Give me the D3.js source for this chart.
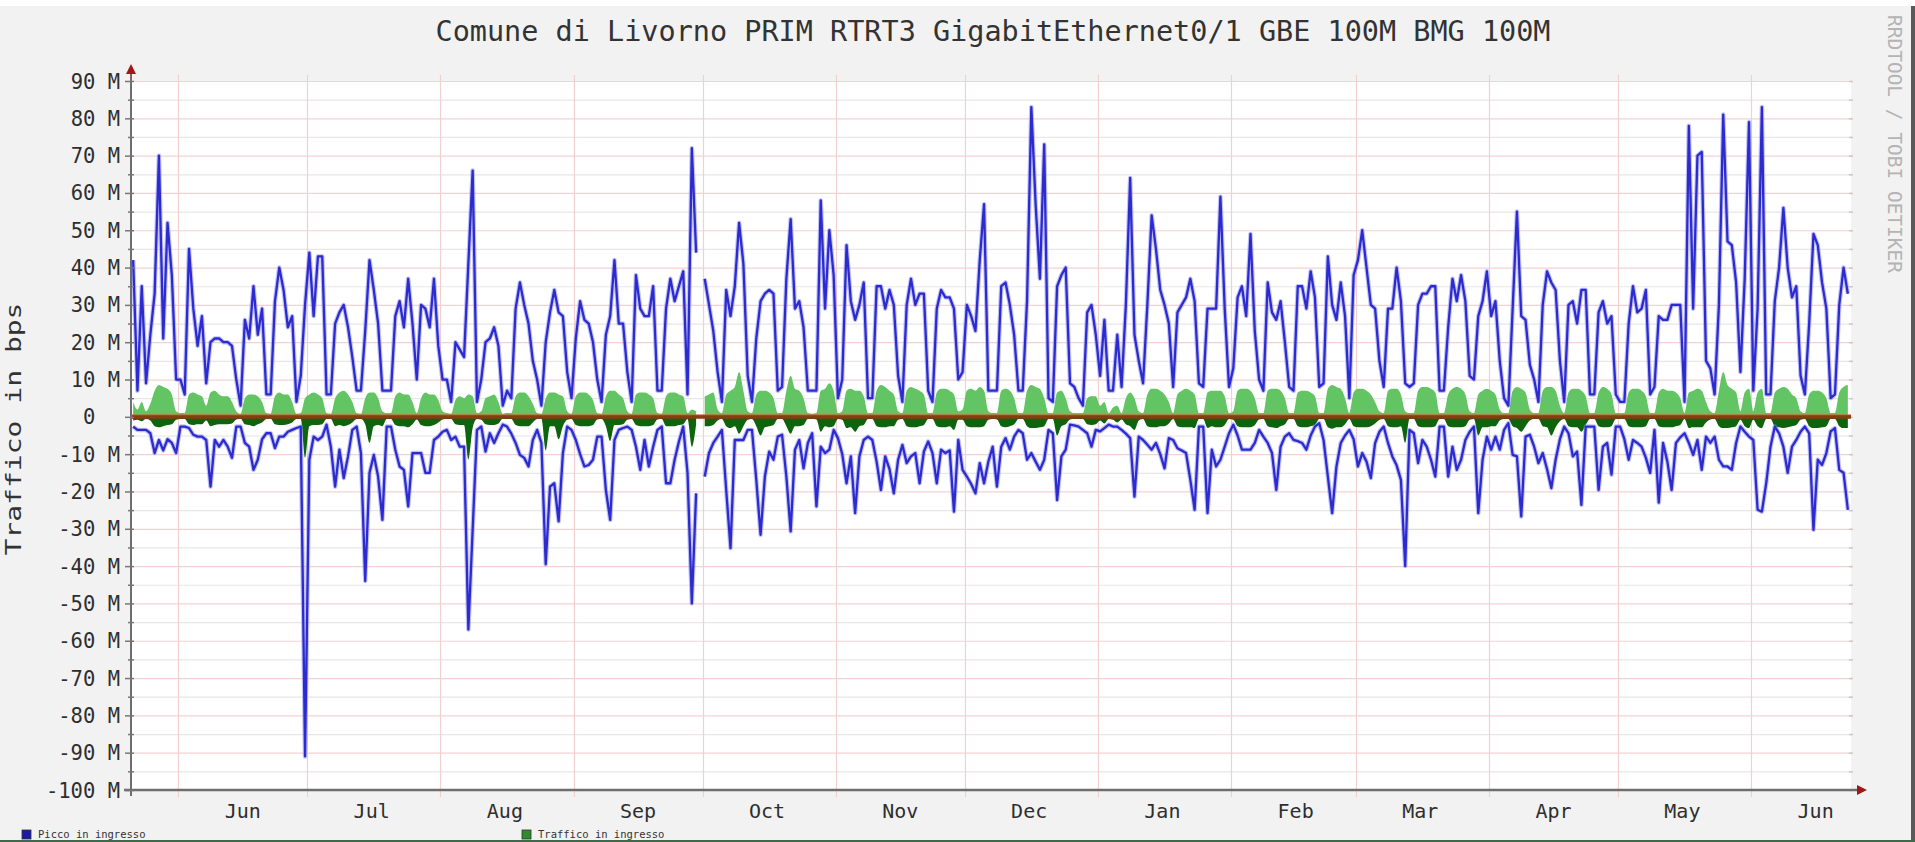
<!DOCTYPE html>
<html><head><meta charset="utf-8">
<script src="https://cdn.jsdelivr.net/npm/d3@7"></script>
<style>
html,body{margin:0;padding:0;background:#f2f2f2;overflow:hidden;}
svg{display:block;}
text{font-family:"DejaVu Sans Mono",monospace;white-space:pre;}
</style></head><body>
<svg id="chart" width="1915" height="842"></svg>
<script>
// ---------- text ----------
const chartTitle = "Comune di Livorno PRIM RTRT3 GigabitEthernet0/1 GBE 100M BMG 100M";
const yAxisTitle = "Traffico in bps";
const watermark = "RRDTOOL / TOBI OETIKER";
const legendLabels = ["Picco in ingresso", "Traffico in ingresso"];

// ---------- axes ----------
const startDate = "2015-05-21";   // first daily sample
const endDate = "2016-06-24";     // right edge of the time axis
const monthStarts = ["2015-06-01","2015-07-01","2015-08-01","2015-09-01","2015-10-01","2015-11-01","2015-12-01","2016-01-01","2016-02-01","2016-03-01","2016-04-01","2016-05-01","2016-06-01"];
const monthLabels = ["Jun","Jul","Aug","Sep","Oct","Nov","Dec","Jan","Feb","Mar","Apr","May","Jun"];
const yTickValues = [90,80,70,60,50,40,30,20,10,0,-10,-20,-30,-40,-50,-60,-70,-80,-90,-100];
const yTickLabels = ["90 M","80 M","70 M","60 M","50 M","40 M","30 M","20 M","10 M","0  ","-10 M","-20 M","-30 M","-40 M","-50 M","-60 M","-70 M","-80 M","-90 M","-100 M"];

// ---------- daily series (Mbit/s), one value per day from startDate ----------
const peakIn = [
42,7,35,9,22,33,70,21,52,38,
10,10,6,45,29,19,27,9,20,21,
21,20,20,19,10,3,26,21,35,22,
29,6,6,31,40,34,24,27,4,11,
30,44,27,43,43,6,6,25,28,30,
24,16,7,7,23,42,34,25,7,7,
7,27,31,24,37,25,10,30,29,24,
37,19,10,10,4,20,18,16,41,66,
4,10,20,21,24,19,3,7,5,29,
36,30,25,15,10,3,20,28,34,28,
27,12,5,21,31,26,25,20,10,4,
22,27,42,25,25,12,4,38,29,27,
27,35,7,7,29,37,31,35,39,6,
72,44,null,37,30,23,12,4,34,27,
35,52,41,11,4,21,31,33,34,33,
7,8,37,53,29,31,24,7,7,7,
58,29,50,38,5,10,46,31,26,30,
36,5,5,35,35,29,34,30,11,4,
30,37,30,33,33,7,4,29,34,32,
32,29,10,12,30,27,23,42,57,7,
7,7,35,36,30,22,7,7,31,83,
57,37,73,5,4,35,38,40,9,8,
5,3,28,30,22,11,26,7,7,22,
8,30,64,22,15,9,30,54,45,34,
30,25,8,28,30,32,37,31,9,8,
29,29,29,59,29,8,13,32,35,27,
49,23,10,7,36,28,26,31,20,8,
7,35,35,29,39,32,8,9,43,30,
26,36,27,5,38,42,50,40,30,29,
15,8,29,29,40,31,9,8,9,30,
33,33,35,35,7,7,24,37,31,38,
31,11,10,27,31,39,27,31,15,5,
3,29,55,27,26,14,10,4,30,39,
36,34,15,4,30,31,25,34,34,6,
6,28,31,25,27,6,4,4,25,35,
28,29,34,6,8,27,26,26,30,30,
30,4,78,29,70,71,15,13,6,30,
81,47,46,36,12,37,79,7,29,83,
6,6,31,40,56,40,32,35,11,6,
25,49,46,36,29,5,6,30,40,33
];
const peakOut = [
-2.6,-3.5,-3.5,-3.5,-4.4,-9.7,-6.2,-9,-6,-7,
-9.7,-2.6,-2.6,-3,-4.8,-5.3,-5.3,-6.2,-18.7,-6.2,
-8,-6.2,-8,-11,-2.6,-2.6,-7,-8,-14.2,-11.5,
-6,-4.4,-4.4,-8.4,-5.3,-5.3,-4,-3.5,-3,-2.6,
-91,-11.5,-5.3,-6.2,-5.3,-2.1,-8,-18.7,-8.8,-16.4,
-10.6,-3.5,-2.6,-9.7,-44,-15,-10.2,-16,-27.6,-2.6,
-2.6,-8.8,-13.3,-14.2,-24,-9.7,-9.7,-9.7,-15,-15,
-6.2,-5.3,-4,-3.5,-6.2,-5.3,-8,-8,-57,-30.3,
-3.5,-2.6,-9.3,-4.4,-7,-4.4,-2.1,-2.6,-4.5,-7,
-10.2,-11,-13.3,-6.2,-3.5,-7,-39.5,-18.7,-17.8,-28,
-9.7,-2.6,-3.5,-6.2,-10,-13.3,-12.9,-11.5,-5.3,-5.3,
-19.6,-27.6,-6.2,-3.5,-3,-2.6,-3.5,-8,-14.2,-6.2,
-13.3,-8,-3.5,-2.6,-17.8,-17.8,-11.5,-6.6,-2.6,-15,
-50,-20.5,null,-16,-9.7,-7,-5.3,-3.5,-19.6,-35.2,
-6.2,-6.2,-6.2,-3.5,-3.5,-16.9,-31.6,-16,-9.3,-11.5,
-5.3,-4.8,-16,-30.7,-8.8,-6.2,-13.8,-7,-4.4,-24,
-8,-9.7,-8.8,-3.5,-5.7,-10,-17.8,-10.6,-25.8,-10.6,
-6.2,-5.3,-6.2,-12,-19.6,-10.6,-14,-20.5,-11.5,-7.5,
-12.4,-10.6,-9.7,-17.8,-9.3,-6.6,-9.7,-17.8,-8.8,-9.7,
-9,-25.4,-6.2,-14.2,-16,-18,-20.5,-12.4,-17.8,-12,
-8,-18.7,-8,-5.7,-8.8,-5.3,-3.5,-4.4,-11.5,-9.7,
-12,-14.2,-11.5,-3.5,-4.4,-22.3,-10.6,-8.8,-2.1,-2.3,
-2.6,-3.5,-4.4,-8,-3.5,-3.9,-3,-2.1,-2.6,-2.6,
-3.5,-4.5,-5.7,-21.4,-5.3,-6.2,-7.5,-8.8,-7,-10,
-13.8,-5.7,-6.2,-8.4,-9,-9.7,-16.9,-24.9,-2.6,-2.6,
-25.8,-8.8,-13.3,-11.5,-8,-4.4,-2.1,-5,-8.8,-8.8,
-8.8,-7,-3.5,-5.3,-7,-9.7,-19.6,-8,-5.3,-4.4,
-6.2,-6.5,-7,-8.8,-5,-2.6,-1.7,-6.2,-16,-25.8,
-13.3,-7,-5,-3.5,-6,-13.3,-9.7,-12,-16.4,-7,
-4,-2.6,-7,-10.6,-13,-16.9,-40,-3.5,-4.4,-12.4,
-6.2,-8,-11.5,-16,-2.6,-2.6,-16,-8,-14.2,-11.5,
-6.2,-4,-2.6,-25.8,-11.5,-5.3,-8.8,-5.3,-8.8,-3.5,
-1.7,-10.2,-10.6,-26.7,-5.3,-4.8,-8,-12.4,-9.7,-14,
-19.1,-11.5,-6,-2.6,-4.4,-10.6,-9.3,-23.6,-2.6,-2.6,
-2.6,-19.6,-8,-7,-15.5,-2.6,-2.6,-6,-11.5,-6.2,
-7,-8,-11,-15,-3.5,-23,-7,-12,-19.6,-7,
-5.5,-4.4,-7,-10.2,-6.2,-14.2,-5.3,-7,-5.3,-11.5,
-13.3,-13.3,-14.2,-7,-2.6,-4,-5.3,-6.2,-24.9,-25.4,
-17.8,-8,-2.6,-4.4,-8,-15,-8,-6.2,-4,-2.6,
-4.4,-30.3,-11.5,-12.9,-9.7,-3.9,-3,-14.2,-15,-24.9
];
const avgIn = [
4,2,4,1.5,3.5,7,8.5,8,7.5,6,
1.5,1,1,6,6.5,6,5.5,3,6.5,7,
6,5.5,5.5,4,1.5,0.8,5,6,6,5.5,
4,1,0.8,5.5,6.5,6,6,4,0.8,1,
5,6,6.5,6,5,1,0.8,5,6.5,7,
6,4,1,0.8,5,6.5,6.5,5,1.5,1,
1,5.5,6.5,6,6,4,1,5,6.5,6,
6,4.5,1.5,1,0.8,4.5,5.5,5,6,5.5,
1,1.5,5,5.5,6,4,0.8,1,1,5.5,
6.5,6.5,5.5,3.5,1,0.8,5,6.5,6.5,6,
5.5,1.5,0.8,5.5,6.5,6.5,6,4.5,1,0.8,
5.5,7,7,6,5,1.5,0.8,6,6.5,6.5,
6,5,1,0.8,5.5,6.5,6.5,6,5.5,1,
2,1.5,null,5.5,6,6.5,2,1,6,7,
8,12,7,1.5,1,6,7,7,6.5,5,
1,1,7,11,7.5,7,5,1,0.8,1,
7,7.5,9,7,1,1.5,7,7.5,7,7,
5.5,1,1,7,8.5,8,7,6,1.5,1,
7,8,7.5,7,6,1,1,6.5,7.5,7.5,
7,6,1.5,2,7,7.5,7,8,7,1.5,
1,1,7,7.5,7,5,1,1,7,8.5,
8,7.5,5,1,1,6.5,7,5,1.5,1,
1,1,5,5.5,5.5,3,4,1,2.5,3,
1,5,6.5,5,1.5,1,6,7.5,7.5,7,
6,4,1,6,7,7.5,7,6,1,1,
6.5,7,7,7,5.5,1,1.5,7,7.5,7.5,
7,5,1,1,7,7.5,7.5,7,5,1,
1,6.5,7,7,6.5,5.5,1,1,7.5,8.5,
8,7.5,5,1,6.5,7.5,7.5,7,6,4,
1.5,1,7,7.5,7.5,6,1.5,1,1,7,
8,8,7.5,6.5,1,1,6,7.5,8,7.5,
6,1.5,1,6,7,7.5,7,6,2,1,
1,7,8,7.5,6.5,2,1,1,7,8,
8,7,3,1,6.5,7.5,7.5,7,5.5,1,
1,6.5,8,7.5,6,1,1,1,6.5,7.5,
7.5,7,5.5,1,1,6.5,7.5,7,7,6.5,
5,1,6.5,7,7.5,7,4,1.5,1,7,
12,8.5,7.5,6.5,1.5,6.5,7.5,1.5,6.5,7.5,
1,1,6.5,7.5,8,7.5,6,5,1.5,1,
6,7,7,6.5,5,1,1,6.5,8,8.5
];
const avgOut = [
-1,-0.8,-1.2,-0.6,-1,-2.5,-2.8,-2.5,-2.2,-2,
-0.8,-0.6,-0.6,-2,-2.2,-2,-2,-1,-2.5,-2.2,
-2,-2,-2,-1.8,-0.7,-0.5,-2,-2.2,-2.5,-2,
-1.5,-0.6,-0.5,-2,-2.2,-2.2,-2,-1.5,-0.6,-0.6,
-11,-2.5,-2.2,-2.2,-2,-0.6,-0.6,-2.5,-2.2,-2.5,
-2.2,-1.5,-0.6,-0.6,-2,-7,-2.5,-2.2,-2.5,-0.6,
-0.6,-2.2,-2.5,-2.5,-2.8,-2,-0.7,-2.2,-2.5,-2.5,
-2.2,-1.5,-0.7,-0.6,-0.6,-2,-2.2,-2.2,-11.5,-3,
-0.6,-0.8,-2,-2.2,-2.2,-1.8,-0.5,-0.6,-0.6,-2.2,
-2.5,-2.5,-2.5,-1.5,-0.6,-0.5,-9,-2.5,-2.5,-6,
-2.5,-0.8,-0.6,-2.2,-2.5,-2.5,-2.5,-2.2,-0.7,-0.6,
-2.5,-6.5,-2.2,-2.2,-2,-0.8,-0.6,-2.2,-2.5,-2.5,
-2.5,-2.2,-0.7,-0.6,-2.5,-2.5,-2.5,-2.2,-2,-0.6,
-8,-2,null,-2.5,-2.5,-2.2,-1,-0.6,-2.5,-3,
-2.5,-4.5,-2.5,-0.8,-0.6,-2.5,-5,-2.8,-2.5,-2.2,
-0.6,-0.6,-2.5,-4.5,-2.5,-2.5,-2.2,-0.6,-0.6,-0.7,
-4,-2.5,-2.8,-2.5,-0.6,-0.8,-3,-2.8,-4,-2.5,
-2.2,-0.6,-0.6,-2.5,-2.8,-2.8,-2.5,-2.5,-0.8,-0.6,
-2.5,-2.8,-2.8,-2.5,-2.2,-0.6,-0.6,-2.5,-2.8,-2.8,
-2.5,-3.5,-0.8,-0.8,-2.5,-2.8,-2.8,-2.8,-2.5,-0.8,
-0.6,-0.7,-2.5,-2.8,-2.5,-2,-0.6,-0.6,-2.5,-3,
-3,-2.8,-2.5,-0.6,-0.6,-5,-2.5,-2,-0.7,-0.6,
-0.6,-0.6,-2,-2.2,-2,-1,-1.8,-0.6,-0.8,-1.5,
-0.7,-2,-2.5,-3.5,-1,-0.6,-2.5,-2.8,-2.8,-2.5,
-2.5,-1.8,-0.6,-2.5,-2.8,-2.8,-2.8,-3,-0.6,-0.6,
-3,-2.5,-2.8,-2.8,-2.2,-0.6,-0.8,-2.5,-2.8,-2.8,
-2.8,-2.2,-0.7,-0.6,-2.5,-2.8,-3,-2.5,-2,-0.6,
-0.6,-2.5,-2.8,-2.8,-2.5,-2.2,-0.6,-0.6,-2.8,-3.2,
-2.8,-2.8,-2,-0.6,-2.5,-2.8,-2.8,-2.8,-2.5,-1.8,
-0.8,-0.6,-2.5,-2.8,-2.8,-2.5,-7,-0.6,-0.6,-2.5,
-2.8,-2.8,-2.8,-2.5,-0.6,-0.6,-2.5,-2.8,-2.8,-2.8,
-2.5,-0.8,-0.6,-5,-2.8,-2.8,-2.5,-2.5,-1,-0.6,
-0.6,-2.5,-3,-4,-2.5,-1,-0.6,-0.6,-2.5,-2.8,
-5,-2.8,-1.2,-0.6,-2.5,-2.8,-2.8,-4,-2.2,-0.6,
-0.6,-2.5,-2.8,-2.8,-2.5,-0.6,-0.6,-0.6,-2.5,-2.8,
-2.8,-2.8,-2.5,-0.6,-0.6,-2.5,-2.8,-2.8,-2.8,-2.5,
-2.2,-0.6,-3,-2.8,-2.8,-2.8,-1.5,-0.7,-0.6,-2.5,
-3,-3,-2.8,-2.5,-0.8,-2.5,-3,-0.8,-2.5,-3,
-0.6,-0.6,-2.5,-2.8,-3,-2.8,-2.5,-2.2,-0.8,-0.6,
-2.5,-3,-3,-2.8,-2.5,-0.6,-0.6,-2.5,-3,-3
];

// ---------- drawing ----------
const W = 1915, H = 842;
const plot = {left: 131, right: 1851, top: 81, bottom: 790};
const svg = d3.select("#chart");
const parse = d3.utcParse("%Y-%m-%d");
const t0 = parse(startDate), t1 = parse(endDate);

const x = d3.scaleUtc().domain([t0, t1]).range([plot.left, plot.right - 1]);
const y = d3.scaleLinear().domain([-100, 90]).range([plot.bottom, plot.top]);

const dayDate = i => d3.utcHour.offset(t0, 24 * i + 12);
const mk = arr => arr.map((v, i) => ({t: dayDate(i), v}));
const sPeakIn = mk(peakIn), sPeakOut = mk(peakOut), sAvgIn = mk(avgIn), sAvgOut = mk(avgOut);

// background + canvas
svg.append("rect").attr("width", W).attr("height", H).attr("fill", "#f2f2f2");
svg.append("rect").attr("width", W).attr("height", 6).attr("fill", "#ffffff");
svg.append("rect").attr("x", plot.left).attr("y", plot.top)
  .attr("width", plot.right - plot.left).attr("height", plot.bottom - plot.top).attr("fill", "#ffffff");

// horizontal grid (5 M minor, 10 M major)
const gridVals = d3.range(-100, 91, 5);
svg.append("g").selectAll("line").data(gridVals).join("line")
  .attr("x1", plot.left).attr("x2", plot.right)
  .attr("y1", d => y(d) + 0.5).attr("y2", d => y(d) + 0.5)
  .attr("stroke", d => d % 10 === 0 ? "#f4d2d2" : "#e8e6e6")
  .attr("stroke-width", 1.2);

// vertical month grid
const monthDates = monthStarts.map(parse);
svg.append("g").selectAll("line").data(monthDates).join("line")
  .attr("x1", d => Math.round(x(d)) + 0.5).attr("x2", d => Math.round(x(d)) + 0.5)
  .attr("y1", plot.top - 6).attr("y2", plot.bottom + 7)
  .attr("stroke", "#f2d0d0").attr("stroke-width", 1.2);

// right side ticks
svg.append("g").selectAll("line").data(gridVals).join("line")
  .attr("x1", plot.right - 2).attr("x2", plot.right + 2)
  .attr("y1", d => y(d) + 0.5).attr("y2", d => y(d) + 0.5)
  .attr("stroke", "#c8c8c8").attr("stroke-width", 1.5);

// areas
const areaGen = d3.area().defined(d => d.v != null).curve(d3.curveMonotoneX)
  .x(d => x(d.t)).y0(y(0)).y1(d => y(d.v));
svg.append("path").datum(sAvgIn).attr("d", areaGen).attr("fill", "#62c462");
svg.append("path").datum(sAvgOut).attr("d", areaGen).attr("fill", "#0c640c");

// zero line
svg.append("line").attr("x1", plot.left).attr("x2", plot.right)
  .attr("y1", y(0)).attr("y2", y(0)).attr("stroke", "#8a3c10").attr("stroke-width", 4);
svg.append("line").attr("x1", plot.left).attr("x2", plot.right)
  .attr("y1", y(0) - 2).attr("y2", y(0) - 2).attr("stroke", "#e0703a").attr("stroke-width", 1).attr("opacity", 0.7);

// peak lines
const lineGen = d3.line().defined(d => d.v != null).x(d => x(d.t)).y(d => y(d.v));
[sPeakIn, sPeakOut].forEach(s => {
  svg.append("path").datum(s).attr("d", lineGen).attr("fill", "none")
    .attr("stroke", "#8686f4").attr("stroke-width", 4.5).attr("stroke-linejoin", "round").attr("opacity", 0.5);
  svg.append("path").datum(s).attr("d", lineGen).attr("fill", "none")
    .attr("stroke", "#2b2bd0").attr("stroke-width", 2.3).attr("stroke-linejoin", "round");
});

// axes lines
svg.append("line").attr("x1", plot.left).attr("x2", plot.left)
  .attr("y1", plot.bottom + 6).attr("y2", plot.top - 8).attr("stroke", "#6e6e6e").attr("stroke-width", 2);
svg.append("line").attr("x1", plot.left - 7).attr("x2", plot.right + 6)
  .attr("y1", plot.bottom).attr("y2", plot.bottom).attr("stroke", "#6e6e6e").attr("stroke-width", 2.5);
// arrows
svg.append("path").attr("d", `M${plot.left - 5},${plot.top - 7} L${plot.left + 5},${plot.top - 7} L${plot.left},${plot.top - 17} Z`).attr("fill", "#a01818");
svg.append("path").attr("d", `M${plot.right + 6},${plot.bottom - 5} L${plot.right + 6},${plot.bottom + 5} L${plot.right + 16},${plot.bottom} Z`).attr("fill", "#a01818");

// y ticks
svg.append("g").selectAll("line").data(gridVals).join("line")
  .attr("x1", d => d % 10 === 0 ? plot.left - 6 : plot.left - 3).attr("x2", plot.left + 3)
  .attr("y1", d => y(d) + 0.5).attr("y2", d => y(d) + 0.5)
  .attr("stroke", "#777").attr("stroke-width", 1.5);

// y labels
svg.append("g").selectAll("text").data(yTickValues).join("text")
  .attr("x", 120).attr("y", d => y(d) + 7.5)
  .attr("text-anchor", "end").attr("font-size", 20.5).attr("fill", "#2e2e2e")
  .text((d, i) => yTickLabels[i]);

// x labels (centred on mid-month)
svg.append("g").selectAll("text").data(monthDates).join("text")
  .attr("x", (d, i) => x(d3.utcDay.offset(d, 15)))
  .attr("y", 818).attr("text-anchor", "middle").attr("font-size", 20).attr("fill", "#2e2e2e")
  .text((d, i) => monthLabels[i]);

// title
svg.append("text").attr("x", 993).attr("y", 41).attr("text-anchor", "middle")
  .attr("font-size", 28).attr("fill", "#333").attr("textLength", 1115).attr("lengthAdjust", "spacingAndGlyphs")
  .text(chartTitle);

// y axis title
svg.append("text").attr("transform", "translate(21,429) rotate(-90)")
  .attr("text-anchor", "middle").attr("font-size", 22).attr("fill", "#333")
  .attr("textLength", 253).attr("lengthAdjust", "spacingAndGlyphs")
  .text(yAxisTitle);

// watermark
svg.append("text").attr("transform", "translate(1888,15) rotate(90)")
  .attr("font-size", 19).attr("fill", "#b4b4b4")
  .attr("textLength", 258).attr("lengthAdjust", "spacingAndGlyphs")
  .text(watermark);

// right frame
svg.append("rect").attr("x", 1911).attr("y", 6).attr("width", 4).attr("height", H).attr("fill", "#5a5a5a");

// legend (squeezed into the bottom strip)
const legendColors = ["#1a1aa8", "#2e8b2e"];
const legendX = [22, 522];
legendLabels.forEach((lab, i) => {
  svg.append("rect").attr("x", legendX[i]).attr("y", 830).attr("width", 9).attr("height", 9)
    .attr("fill", legendColors[i]).attr("stroke", "#333").attr("stroke-width", 0.8);
  svg.append("text").attr("x", legendX[i] + 16).attr("y", 838).attr("font-size", 10.5).attr("fill", "#333").text(lab);
});
svg.append("rect").attr("x", 0).attr("y", 840).attr("width", W).attr("height", 2).attr("fill", "#3d6b4a");
</script>
</body></html>
